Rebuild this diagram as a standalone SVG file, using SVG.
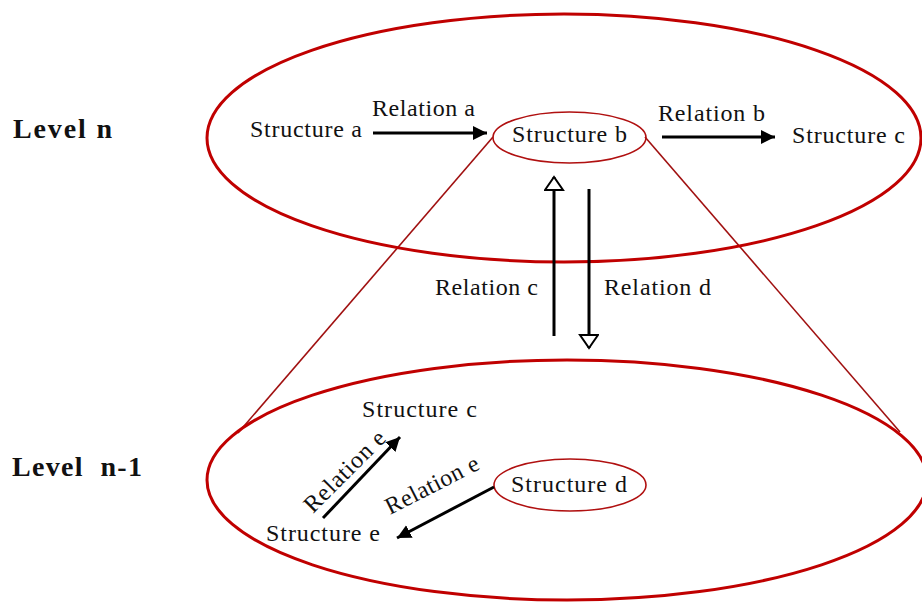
<svg xmlns="http://www.w3.org/2000/svg" width="922" height="603" viewBox="0 0 922 603">
<style>
.t{font-family:"Liberation Serif","Times New Roman",serif;font-size:24px;fill:#111}
.lv{font-family:"Liberation Serif","Times New Roman",serif;font-size:28px;font-weight:bold;fill:#111}
.big{fill:none;stroke:#c00000;stroke-width:3}
.small{fill:none;stroke:#b01010;stroke-width:1.6}
.cone{stroke:#a01010;stroke-width:1.6;fill:none}
.arr{stroke:#000;stroke-width:3;fill:none}
</style>
<defs>
<marker id="fh" markerUnits="userSpaceOnUse" markerWidth="16" markerHeight="16" refX="14" refY="7" orient="auto">
<path d="M0,0 L14,7 L0,14 z" fill="#000"/>
</marker>
<marker id="oh" markerUnits="userSpaceOnUse" markerWidth="24" markerHeight="24" refX="14" refY="10" orient="auto">
<path d="M1,1 L14,10 L1,19 z" fill="#fff" stroke="#000" stroke-width="2"/>
</marker>
</defs>
<rect width="922" height="603" fill="#fff"/>
<g id="cone">
<line class="cone" x1="493" y1="137" x2="238" y2="433"/>
<line class="cone" x1="645" y1="137" x2="900" y2="432"/>
</g>
<g id="level-n">
<ellipse class="big" cx="564" cy="138" rx="357" ry="124"/>
<text class="lv" x="13" y="138" textLength="99">Level n</text>
</g>
<g id="level-n-1">
<ellipse class="big" cx="567" cy="480" rx="360" ry="120"/>
<text class="lv" x="12" y="476" textLength="130" xml:space="preserve">Level  n-1</text>
</g>
<g id="structure-a"><text class="t" x="250" y="137" textLength="112">Structure a</text></g>
<g id="structure-b">
<ellipse class="small" cx="569.5" cy="137.5" rx="76.5" ry="25.5" fill="#fff"/>
<text class="t" x="512" y="142" textLength="115">Structure b</text>
</g>
<g id="structure-c-top"><text class="t" x="792" y="143" textLength="113">Structure c</text></g>
<g id="structure-c-low"><text class="t" x="362" y="417" textLength="115">Structure c</text></g>
<g id="structure-d">
<ellipse class="small" cx="570" cy="485" rx="76" ry="26"/>
<text class="t" x="511" y="492" textLength="116">Structure d</text>
</g>
<g id="structure-e"><text class="t" x="266" y="541" textLength="114">Structure e</text></g>
<g id="connectors">
<line class="arr" x1="373" y1="133" x2="487" y2="133" marker-end="url(#fh)"/>
<text class="t" x="372" y="116" textLength="103">Relation a</text>
<line class="arr" x1="662" y1="137" x2="775" y2="137" marker-end="url(#fh)"/>
<text class="t" x="658" y="121" textLength="107">Relation b</text>
<line class="arr" x1="554" y1="336" x2="554" y2="177" marker-end="url(#oh)"/>
<text class="t" x="435" y="295" textLength="103">Relation c</text>
<line class="arr" x1="589" y1="189" x2="589" y2="348" marker-end="url(#oh)"/>
<text class="t" x="604" y="295" textLength="107">Relation d</text>
<line class="arr" x1="323" y1="518" x2="400" y2="437" marker-end="url(#fh)"/>
<text class="t" x="0" y="0" textLength="105" transform="translate(313,514) rotate(-45)">Relation e</text>
<line class="arr" x1="494" y1="487" x2="397" y2="538" marker-end="url(#fh)"/>
<text class="t" x="0" y="0" textLength="102" transform="translate(390,515) rotate(-27)">Relation e</text>
</g>
</svg>
